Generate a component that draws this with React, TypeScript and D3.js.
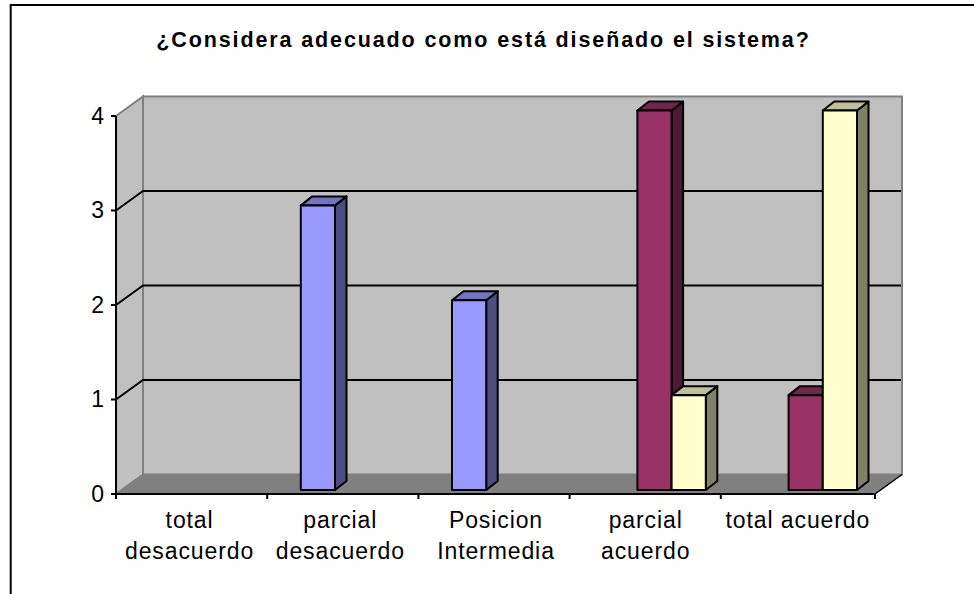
import { useEffect, useRef } from "react";
import * as d3 from "d3";

const title = "¿Considera adecuado como está diseñado el sistema?";
const categories = [
  ["total", "desacuerdo"],
  ["parcial", "desacuerdo"],
  ["Posicion", "Intermedia"],
  ["parcial", "acuerdo"],
  ["total acuerdo"],
];
const seriesNames = ["a", "b", "c"];
const seriesA = [0, 3, 2, 0, 0];
const seriesB = [0, 0, 0, 4, 1];
const seriesC = [0, 0, 0, 1, 4];
const yTicks = [0, 1, 2, 3, 4];

const width = 974;
const height = 594;

const faces: Record<string, { front: string; top: string; side: string }> = {
  a: { front: "#9999ff", top: "#7373bf", side: "#4d4d80" },
  b: { front: "#993366", top: "#73264d", side: "#4d1a33" },
  c: { front: "#ffffcc", top: "#bfbf99", side: "#808066" },
};

export default function App() {
  const ref = useRef<SVGSVGElement | null>(null);

  useEffect(() => {
    if (!ref.current) return;
    const svg = d3.select(ref.current);
    svg.selectAll("*").remove();

    const font = "'Liberation Sans', Arial, sans-serif";

    // depth of the 3d box
    const dx = 27;
    const dy = -19.5;

    const x0 = d3
      .scaleBand<number>()
      .domain(d3.range(categories.length))
      .range([116, 872]);
    const x1 = d3.scaleBand<string>().domain(seriesNames).range([33.6, 136.2]);

    const yFront = d3.scaleLinear().domain([0, 4]).range([494, 116]);
    const yBar = d3.scaleLinear().domain([0, 4]).range([490, 110.5]);
    const barDx = 11.5;
    const barDy = -9;

    // chart frame, the bottom and right are cut off by the picture
    svg
      .append("path")
      .attr("d", "M10.7,594V5H974")
      .attr("fill", "none")
      .attr("stroke", "#000")
      .attr("stroke-width", 2);

    svg
      .append("text")
      .attr("x", 483.5)
      .attr("y", 47)
      .attr("text-anchor", "middle")
      .attr("font-family", font)
      .attr("font-size", 21.5)
      .attr("font-weight", "bold")
      .attr("letter-spacing", 1.88)
      .text(title);

    const poly = (pts: [number, number][]) => d3.line()(pts) + "Z";
    const left = 116;
    const right = 875;
    const y0 = yFront(0);
    const y4 = yFront(4);

    // walls and floor
    const g = svg.append("g");
    g.append("path")
      .attr("d", poly([[left + dx, y4 + dy], [right + dx, y4 + dy], [right + dx, y0 + dy], [left + dx, y0 + dy]]))
      .attr("fill", "#c0c0c0")
      .attr("stroke", "#808080")
      .attr("stroke-width", 2);
    g.append("path")
      .attr("d", poly([[left, y4], [left + dx, y4 + dy], [left + dx, y0 + dy], [left, y0]]))
      .attr("fill", "#c0c0c0")
      .attr("stroke", "#808080")
      .attr("stroke-width", 2);
    g.append("path")
      .attr("d", poly([[left, y0], [left + dx, y0 + dy], [right + dx, y0 + dy], [right, y0]]))
      .attr("fill", "#808080")
      .attr("stroke", "#808080")
      .attr("stroke-width", 1);

    // gridlines, on the side wall and on the back wall
    yTicks
      .filter((t) => t > 0 && t < 4)
      .forEach((t) => {
        g.append("path")
          .attr("d", d3.line()([[left, yFront(t)], [left + dx, yFront(t) + dy], [right + dx - 1, yFront(t) + dy]]))
          .attr("fill", "none")
          .attr("stroke", "#000")
          .attr("stroke-width", 2);
      });

    // axes
    g.append("path")
      .attr("d", `M${left},${y4}V${y0}H${right}`)
      .attr("fill", "none")
      .attr("stroke", "#000")
      .attr("stroke-width", 2);
    g.append("path")
      .attr("d", d3.line()([[right, y0], [right + dx, y0 + dy]]))
      .attr("stroke", "#000")
      .attr("stroke-width", 1.5);

    yTicks.forEach((t) => {
      g.append("line")
        .attr("x1", left - 5)
        .attr("x2", left)
        .attr("y1", yFront(t))
        .attr("y2", yFront(t))
        .attr("stroke", "#000")
        .attr("stroke-width", 2);
      svg
        .append("text")
        .attr("x", 104)
        .attr("y", yFront(t) + 7.8)
        .attr("text-anchor", "end")
        .attr("font-family", font)
        .attr("font-size", 23)
        .attr("fill", "#000")
        .text(t);
    });

    d3.range(categories.length).forEach((i) => {
      const tx = left + x0.step() * i;
      g.append("line")
        .attr("x1", tx)
        .attr("x2", tx)
        .attr("y1", y0)
        .attr("y2", y0 + 5)
        .attr("stroke", "#000")
        .attr("stroke-width", 2);
    });
    g.append("line")
      .attr("x1", right)
      .attr("x2", right)
      .attr("y1", y0)
      .attr("y2", y0 + 5)
      .attr("stroke", "#000")
      .attr("stroke-width", 2);

    // bars, left to right so the sides overlap like the original
    const values: Record<string, number[]> = { a: seriesA, b: seriesB, c: seriesC };
    categories.forEach((_, i) => {
      seriesNames.forEach((name) => {
        const v = values[name][i];
        if (!v) return;
        const xl = (x0(i) ?? 0) + (x1(name) ?? 0);
        const xr = xl + x1.bandwidth();
        const yt = yBar(v);
        const yb = yBar(0);
        const bar = g.append("g").attr("stroke", "#000").attr("stroke-width", 2).attr("stroke-linejoin", "round");
        bar.append("path")
          .attr("d", poly([[xr, yt], [xr + barDx, yt + barDy], [xr + barDx, yb + barDy], [xr, yb]]))
          .attr("fill", faces[name].side);
        bar.append("path")
          .attr("d", poly([[xl, yt], [xl + barDx, yt + barDy], [xr + barDx, yt + barDy], [xr, yt]]))
          .attr("fill", faces[name].top);
        bar.append("rect")
          .attr("x", xl)
          .attr("y", yt)
          .attr("width", xr - xl)
          .attr("height", yb - yt)
          .attr("fill", faces[name].front);
      });
    });

    // category labels, the original spacing is a little uneven
    const labelNudge = [-2, -2.5, 2, 0.5, 1.5];
    categories.forEach((lines, i) => {
      lines.forEach((line, j) => {
        svg
          .append("text")
          .attr("x", (x0(i) ?? 0) + x0.bandwidth() / 2 + labelNudge[i])
          .attr("y", 528 + j * 31)
          .attr("text-anchor", "middle")
          .attr("font-family", font)
          .attr("font-size", 23)
          .attr("letter-spacing", 0.9)
          .attr("fill", "#000")
          .text(line);
      });
    });
  }, []);

  return (
    <svg
      ref={ref}
      width={width}
      height={height}
      style={{ position: "absolute", left: 0, top: 0, display: "block" }}
    />
  );
}
